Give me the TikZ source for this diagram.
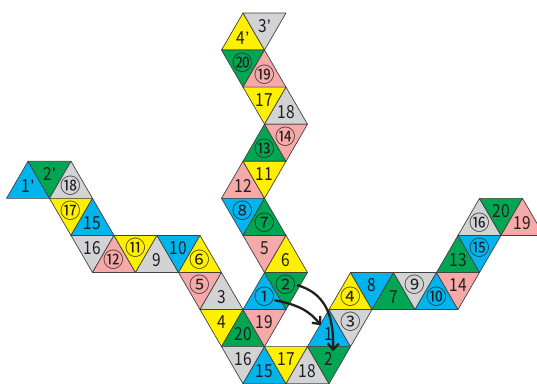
\documentclass[tikz,border=0pt]{standalone}
\usepackage{fontspec}
\newfontfamily\cjkf{Noto Sans CJK JP}
\newfontfamily\numf[FakeStretch=0.86]{Noto Sans CJK JP}
\newfontfamily\libf{Liberation Sans}
\usetikzlibrary{calc,arrows.meta}
\definecolor{cY}{RGB}{255,240,0}
\definecolor{cB}{RGB}{0,180,238}
\definecolor{cG}{RGB}{0,166,81}
\definecolor{cP}{RGB}{245,169,168}
\definecolor{cS}{RGB}{210,211,213}
\definecolor{ink}{RGB}{35,31,32}
\newcommand\qm{{\libf ’}}
\newcommand\ci[1]{{\cjkf\fontsize{20.5}{20.5}\selectfont #1}}
\tikzset{
  tri/.style={draw=ink!85, line width=0.7pt, line join=round},
  lab/.style={inner sep=0pt, text=ink, font=\numf\fontsize{18}{18}\selectfont},
  arr/.style={draw=ink, line width=2.3pt, -{Straight Barb[length=6pt,width=11pt,line width=2.3pt]}}
}
\newcommand\tup[4]{%
  \pgfmathsetmacro\cx{243+21.5*(#2-#1)}%
  \pgfmathsetmacro\yt{13+37.07*#1}%
  \filldraw[tri, fill=#3] (\cx,\yt) -- ++(-21.5,37.07) -- ++(43,0) -- cycle;
  \node[lab] (t-#1-#2) at (\cx,\yt+24.7) {#4};
}
\newcommand\tdn[4]{%
  \pgfmathsetmacro\cx{243+21.5*(#2-#1)}%
  \pgfmathsetmacro\yt{13+37.07*#1}%
  \filldraw[tri, fill=#3] (\cx-21.5,\yt) -- ++(43,0) -- ++(-21.5,37.07) -- cycle;
  \node[lab] (t-#1-#2) at (\cx,\yt+12.6) {#4};
}
\begin{document}
\begin{tikzpicture}[x=1pt,y=-1pt]
\useasboundingbox (0,0) rectangle (537,383);
\clip (0,0) rectangle (537,383);
% row 0
\tup{0}{0}{cY}{4\qm}
\tdn{0}{1}{cS}{3\qm}
% row 1
\tdn{1}{1}{cG}{\ci{⑳}}
\tup{1}{2}{cP}{\ci{⑲}}
% row 2
\tdn{2}{3}{cY}{17}
\tup{2}{4}{cS}{18}
% row 3
\tup{3}{4}{cG}{\ci{⑬}}
\tdn{3}{5}{cP}{\ci{⑭}}
% row 4
\tup{4}{-6}{cB}{1\qm}
\tdn{4}{-5}{cG}{2\qm}
\tup{4}{-4}{cS}{\ci{⑱}}
\tup{4}{4}{cP}{12}
\tdn{4}{5}{cY}{11}
% row 5
\tdn{5}{-3}{cY}{\ci{⑰}}
\tup{5}{-2}{cB}{15}
\tdn{5}{5}{cB}{\ci{⑧}}
\tup{5}{6}{cG}{\ci{⑦}}
\tup{5}{16}{cS}{\ci{⑯}}
\tdn{5}{17}{cG}{20}
\tup{5}{18}{cP}{19}
% row 6
\tdn{6}{-1}{cS}{16}
\tup{6}{0}{cP}{\ci{⑫}}
\tdn{6}{1}{cY}{\ci{⑪}}
\tup{6}{2}{cS}{9}
\tdn{6}{3}{cB}{10}
\tup{6}{4}{cY}{\ci{⑥}}
\tdn{6}{7}{cP}{5}
\tup{6}{8}{cY}{6}
\tup{6}{16}{cG}{13}
\tdn{6}{17}{cB}{\ci{⑮}}
% row 7
\tdn{7}{5}{cP}{\ci{⑤}}
\tup{7}{6}{cS}{3}
\tup{7}{8}{cB}{\ci{①}}
\tdn{7}{9}{cG}{\ci{②}}
\tup{7}{12}{cY}{\ci{④}}
\tdn{7}{13}{cB}{8}
\tup{7}{14}{cG}{7}
\tdn{7}{15}{cS}{\ci{⑨}}
\tup{7}{16}{cB}{\ci{⑩}}
\tdn{7}{17}{cP}{14}
% row 8
\tdn{8}{7}{cY}{4}
\tup{8}{8}{cG}{20}
\tdn{8}{9}{cP}{19}
\tup{8}{12}{cB}{1}
\tdn{8}{13}{cS}{\ci{③}}
% row 9
\tdn{9}{9}{cS}{16}
\tup{9}{10}{cB}{15}
\tdn{9}{11}{cY}{17}
\tup{9}{12}{cS}{18}
\tdn{9}{13}{cG}{2}
% arrows
\coordinate (a1s) at ($(t-7-8)+(10,3)$);
\coordinate (a1e) at ($(t-8-12)+(-8,-9)$);
\coordinate (a2s) at ($(t-7-9)+(11,0)$);
\coordinate (a2e) at ($(t-9-13)+(4,-8)$);
\draw[arr] (a1s) .. controls (300,305) and (310,312) .. (a1e);
\draw[arr] (a2s) .. controls (325,293) and (334,315) .. (a2e);
\end{tikzpicture}
\end{document}
